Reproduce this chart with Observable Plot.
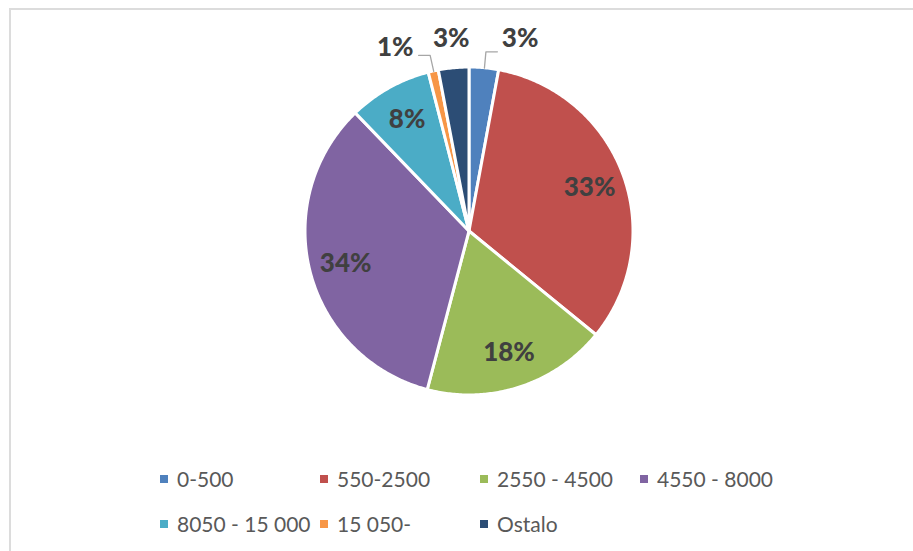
<!DOCTYPE html>
<html>
<head>
<meta charset="utf-8">
<script src="https://cdn.jsdelivr.net/npm/d3@7"></script>
<script src="https://cdn.jsdelivr.net/npm/@observablehq/plot@0.6"></script>
<style>
  html, body { margin: 0; padding: 0; background: #fff; }
  #wrap { position: relative; width: 913px; height: 551px; overflow: hidden; }
  #frame { position: absolute; left: 9px; top: 8px; right: -5px; bottom: -5px;
           border-left: 2px solid #dcdcdc; border-top: 2px solid #dcdcdc; }
  #chart { position: absolute; left: 0; top: 0; }
  #legend { position: absolute; left: 160px; top: 456px;
            display: grid; grid-template-columns: repeat(4, 160px); grid-auto-rows: 45px;
            font-family: Lato, "Open Sans", sans-serif; font-size: 21px; color: #595959; }
  .item { display: flex; align-items: center; white-space: nowrap; }
  .sw { width: 8px; height: 8px; margin-right: 9px; flex: none; }
</style>
</head>
<body>
<div id="wrap">
  <div id="frame"></div>
  <div id="chart"></div>
  <div id="legend"></div>
</div>
<script>
// ---- data ----
const categories = ["0-500", "550-2500", "2550 - 4500", "4550 - 8000", "8050 - 15 000", "15 050-", "Ostalo"];
const shares = [2.9, 33.0, 18.2, 33.7, 8.2, 1.0, 3.0];
const labels = ["3%", "33%", "18%", "34%", "8%", "1%", "3%"];
const colors = ["#4F81BD", "#C0504D", "#9BBB59", "#8064A2", "#4BACC6", "#F79646", "#2C4D75"];

// ---- layout ----
const cx = 469, cy = 231, R = 164;
const outsideNudge = { "0-500": [33, 0], "15 050-": [-32, 5], "Ostalo": [0, 0] }; // pixels

const arcs = d3.pie().sort(null).value(d => d)(shares);

// wedge outline points
const wedgePts = [];
arcs.forEach((a, i) => {
  const n = Math.max(2, Math.ceil((a.endAngle - a.startAngle) / 0.01));
  for (let k = 0; k <= n; k++) {
    const t = a.startAngle + (a.endAngle - a.startAngle) * k / n;
    wedgePts.push({ cat: categories[i], x: Math.sin(t), y: Math.cos(t) });
  }
});

// labels
const labelRows = arcs.map((a, i) => {
  const m = (a.startAngle + a.endAngle) / 2;
  const cat = categories[i];
  const outside = cat in outsideNudge;
  const r = outside ? 1.18 : 0.78;
  const [nx, ny] = outside ? outsideNudge[cat] : [0, 0];
  return { cat, text: labels[i], x: r * Math.sin(m) + nx / R, y: r * Math.cos(m) - ny / R };
});

// leader lines
const leaderRows = [];
arcs.forEach((a, i) => {
  const cat = categories[i];
  const nud = outsideNudge[cat];
  if (!nud || nud[0] === 0) return;
  const m = (a.startAngle + a.endAngle) / 2;
  const p0 = { cat, x: 1.0 * Math.sin(m), y: 1.0 * Math.cos(m) };
  const p1 = { cat, x: 1.1 * Math.sin(m), y: 1.1 * Math.cos(m) };
  const p2 = { cat, x: p1.x + Math.sign(nud[0]) * 0.07, y: p1.y };
  leaderRows.push(p0, p1, p2);
});

const chart = Plot.plot({
  width: 913,
  height: 450,
  x: { domain: [-1, 1], range: [cx - R, cx + R], axis: null },
  y: { domain: [-1, 1], range: [cy + R, cy - R], axis: null },
  color: { domain: categories, range: colors },
  style: { background: "transparent", fontFamily: "Lato, 'Open Sans', sans-serif", overflow: "visible" },
  marks: [
    Plot.area(wedgePts, { x1: "x", y1: "y", x2: 0, y2: 0, z: "cat", fill: "cat",
      stroke: "white", strokeWidth: 3, strokeLinejoin: "round", curve: "linear" }),
    Plot.line(leaderRows, { x: "x", y: "y", z: "cat", stroke: "#a6a6a6", strokeWidth: 1.3 }),
    Plot.text(labelRows, { x: "x", y: "y", text: "text", fill: "#404040",
      fontSize: 26, fontWeight: 900 })
  ]
});
document.getElementById("chart").appendChild(chart);

// legend
const leg = document.getElementById("legend");
categories.forEach((c, i) => {
  const it = document.createElement("div");
  it.className = "item";
  const sw = document.createElement("span");
  sw.className = "sw";
  sw.style.background = colors[i];
  const tx = document.createElement("span");
  tx.textContent = c;
  it.appendChild(sw); it.appendChild(tx);
  leg.appendChild(it);
});
</script>
</body>
</html>
